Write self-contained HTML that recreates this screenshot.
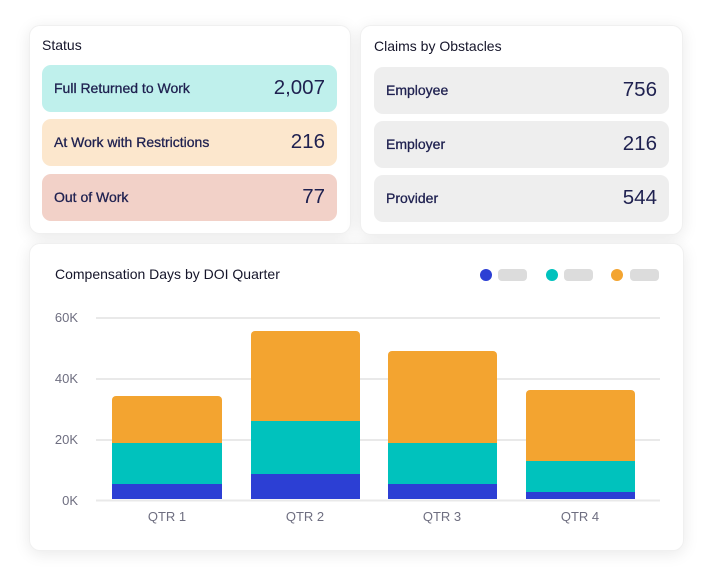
<!DOCTYPE html>
<html><head><meta charset="utf-8">
<style>
*{margin:0;padding:0;box-sizing:border-box}
body{width:712px;height:584px;background:#fff;position:relative;overflow:hidden;font-family:"Liberation Sans",Arial,sans-serif}
.card{position:absolute;background:#fff;border-radius:11px;box-shadow:0 3px 16px rgba(0,0,0,0.09);border:1px solid #f0f0f0}
.title{position:absolute;font-size:14px;color:#15152a}
.pill{position:absolute;border-radius:9px;height:47px}
.pill .l{position:absolute;left:12px;top:15px;font-size:14px;font-weight:normal;color:#1f2150;letter-spacing:0;-webkit-text-stroke:0.3px #1f2150}
.pill .n{position:absolute;right:12px;top:11px;font-size:20.5px;color:#1f2150}
.yl{position:absolute;font-size:13px;color:#6e6e80;width:40px;text-align:right}
.xl{position:absolute;font-size:13px;color:#6e6e80;width:110px;text-align:center}
</style></head><body>
<div class="card" style="left:29px;top:25px;width:322px;height:209px"></div>
<div class="card" style="left:360px;top:25px;width:323px;height:210px"></div>
<div class="card" style="left:29px;top:243px;width:655px;height:308px"></div>

<div class="title" style="left:42px;top:37px">Status</div>
<div class="pill" style="left:42px;top:65px;width:295px;background:#bff0ec"><span class="l">Full Returned to Work</span><span class="n">2,007</span></div>
<div class="pill" style="left:42px;top:119px;width:295px;background:#fce7cd"><span class="l">At Work with Restrictions</span><span class="n">216</span></div>
<div class="pill" style="left:42px;top:174px;width:295px;background:#f2d1c8"><span class="l">Out of Work</span><span class="n">77</span></div>

<div class="title" style="left:374px;top:38px">Claims by Obstacles</div>
<div class="pill" style="left:374px;top:67px;width:295px;background:#eeeeee"><span class="l">Employee</span><span class="n">756</span></div>
<div class="pill" style="left:374px;top:121px;width:295px;background:#eeeeee"><span class="l">Employer</span><span class="n">216</span></div>
<div class="pill" style="left:374px;top:175px;width:295px;background:#eeeeee"><span class="l">Provider</span><span class="n">544</span></div>

<div class="title" style="left:55px;top:266px">Compensation Days by DOI Quarter</div>

<svg style="position:absolute;left:0;top:0" width="712" height="584">
<g fill="#dcdcdc">
<rect x="498" y="269" width="29" height="12" rx="4"/>
<rect x="564" y="269" width="29" height="12" rx="4"/>
<rect x="630" y="269" width="29" height="12" rx="4"/>
</g>
<circle cx="486" cy="275" r="6" fill="#2c3fd4"/>
<circle cx="552" cy="275" r="6" fill="#00c2bd"/>
<circle cx="617" cy="275" r="6" fill="#f3a430"/>
<g stroke="#e9e9e9" stroke-width="2">
<line x1="96" y1="318" x2="660" y2="318"/>
<line x1="96" y1="379" x2="660" y2="379"/>
<line x1="96" y1="440" x2="660" y2="440"/>
<line x1="96" y1="500.5" x2="660" y2="500.5"/>
</g>
<!-- QTR1 -->
<path d="M112 443 V400 a4 4 0 0 1 4 -4 H218 a4 4 0 0 1 4 4 V443 Z" fill="#f3a430"/>
<rect x="112" y="443" width="110" height="41" fill="#00c2bd"/>
<rect x="112" y="484" width="110" height="15" fill="#2c3fd4"/>
<!-- QTR2 -->
<path d="M251 421 V335 a4 4 0 0 1 4 -4 H356 a4 4 0 0 1 4 4 V421 Z" fill="#f3a430"/>
<rect x="251" y="421" width="109" height="53" fill="#00c2bd"/>
<rect x="251" y="474" width="109" height="25" fill="#2c3fd4"/>
<!-- QTR3 -->
<path d="M388 443 V355 a4 4 0 0 1 4 -4 H493 a4 4 0 0 1 4 4 V443 Z" fill="#f3a430"/>
<rect x="388" y="443" width="109" height="41" fill="#00c2bd"/>
<rect x="388" y="484" width="109" height="15" fill="#2c3fd4"/>
<!-- QTR4 -->
<path d="M526 461 V394 a4 4 0 0 1 4 -4 H631 a4 4 0 0 1 4 4 V461 Z" fill="#f3a430"/>
<rect x="526" y="461" width="109" height="31" fill="#00c2bd"/>
<rect x="526" y="492" width="109" height="7" fill="#2c3fd4"/>
</svg>

<div class="yl" style="left:38px;top:310px">60K</div>
<div class="yl" style="left:38px;top:371px">40K</div>
<div class="yl" style="left:38px;top:432px">20K</div>
<div class="yl" style="left:38px;top:493px">0K</div>

<div class="xl" style="left:112px;top:509px">QTR 1</div>
<div class="xl" style="left:250px;top:509px">QTR 2</div>
<div class="xl" style="left:387px;top:509px">QTR 3</div>
<div class="xl" style="left:525px;top:509px">QTR 4</div>
</body></html>
